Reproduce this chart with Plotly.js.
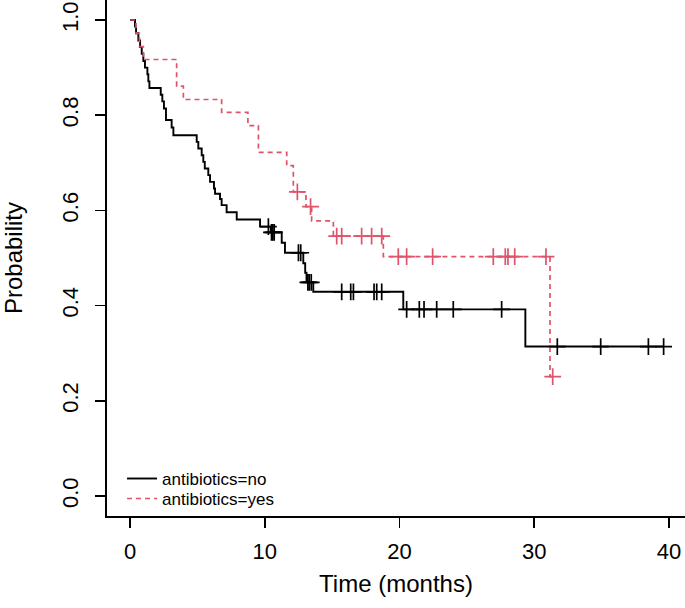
<!DOCTYPE html>
<html>
<head>
<meta charset="utf-8">
<script src="https://cdn.plot.ly/plotly-3.0.1.min.js"></script>
<style>html,body{margin:0;padding:0;background:#fff;}#chart{width:685px;height:608px;}</style>
</head>
<body>
<div id="chart"></div>
<script>
// Kaplan-Meier step data: time of each step (months) and survival after it
const noTimes = [0, 0.37, 0.45, 0.62, 0.75, 0.87, 0.99, 1.11, 1.29, 1.36, 1.44, 2.28, 2.40, 2.52, 2.67, 3.09, 3.22, 4.95, 5.07, 5.32, 5.44, 5.55, 5.81, 5.94, 6.23, 6.31, 6.68, 6.80, 7.17, 7.92, 9.65, 10.45, 11.26, 11.50, 12.86, 13.00, 13.10, 13.60, 20.28, 29.34, 39.6];
const noSurv  = [1.0, 0.986, 0.972, 0.957, 0.943, 0.929, 0.914, 0.900, 0.886, 0.871, 0.857, 0.843, 0.829, 0.814, 0.790, 0.774, 0.758, 0.744, 0.730, 0.716, 0.702, 0.688, 0.674, 0.660, 0.646, 0.635, 0.624, 0.611, 0.596, 0.581, 0.566, 0.554, 0.532, 0.511, 0.489, 0.469, 0.449, 0.429, 0.392, 0.314, 0.314];
const noCensor = [10.27, 10.5, 10.6, 10.7, 12.5, 12.67, 13.2, 13.3, 13.45, 15.71, 16.38, 16.58, 18.11, 18.31, 18.68, 20.53, 21.47, 21.82, 22.76, 23.99, 27.58, 31.71, 34.93, 38.47, 39.6];

const yesTimes = [0, 0.45, 0.70, 0.99, 3.46, 3.96, 6.80, 8.75, 9.53, 11.63, 12.12, 13.06, 13.48, 15.09, 18.80, 31.17, 31.37];
const yesSurv  = [1.0, 0.972, 0.944, 0.917, 0.861, 0.833, 0.806, 0.778, 0.722, 0.694, 0.639, 0.608, 0.578, 0.546, 0.503, 0.251, 0.251];
const yesCensor = [12.42, 13.4, 15.34, 15.71, 17.19, 17.93, 18.68, 19.91, 20.53, 22.46, 26.96, 27.85, 28.05, 28.55, 30.87, 31.37];

const groupNames = ["antibiotics=no", "antibiotics=yes"];
const xTicks = [0, 10, 20, 30, 40];
const yTicks = [0, 0.2, 0.4, 0.6, 0.8, 1.0];

function survAt(times, surv, t) {
  let s = surv[0];
  for (let i = 0; i < times.length; i++) { if (times[i] <= t) s = surv[i]; }
  return s;
}

const BLACK = "#000000";
const RED = "#DF536B";
const FONT = "Liberation Sans, Arial, Helvetica, sans-serif";

const traces = [
  {x: noTimes, y: noSurv, type: "scatter", mode: "lines", name: groupNames[0],
   line: {shape: "hv", color: BLACK, width: 1.9}, legend: "legend"},
  {x: yesTimes, y: yesSurv, type: "scatter", mode: "lines", name: groupNames[1],
   line: {shape: "hv", color: RED, width: 1.7, dash: "5px,4px"}, legend: "legend2"},
  {x: noCensor, y: noCensor.map(t => survAt(noTimes, noSurv, t)), type: "scatter", mode: "markers",
   showlegend: false, marker: {symbol: "cross-thin", size: 12, line: {color: BLACK, width: 1.7}}},
  {x: yesCensor, y: yesCensor.map(t => survAt(yesTimes, yesSurv, t)), type: "scatter", mode: "markers",
   showlegend: false, marker: {symbol: "cross-thin", size: 12, line: {color: RED, width: 1.7}}}
];

const layout = {
  width: 685, height: 608,
  margin: {l: 107, r: 0, t: 0, b: 92, pad: 0},
  paper_bgcolor: "#fff", plot_bgcolor: "#fff",
  font: {family: FONT, color: "#000", size: 22},
  showlegend: true,
  xaxis: {
    range: [-1.707, 41.187], tickvals: xTicks, ticktext: xTicks.map(String),
    showgrid: false, zeroline: false, showline: true, linecolor: "#000", linewidth: 1.7,
    ticks: "outside", ticklen: 10, tickwidth: 1.7, tickcolor: "#000",
    ticklabelstandoff: 5,
    tickfont: {size: 22, family: FONT},
    title: {text: "Time (months)", font: {size: 24, family: FONT}, standoff: 12},
    automargin: false
  },
  yaxis: {
    range: [-0.042, 1.042], tickvals: yTicks, ticktext: yTicks.map(v => v.toFixed(1)),
    tickangle: -90,
    showgrid: false, zeroline: false, showline: true, linecolor: "#000", linewidth: 1.7,
    ticks: "outside", ticklen: 10, tickwidth: 1.7, tickcolor: "#000",
    ticklabelstandoff: 9,
    tickfont: {size: 22, family: FONT},
    title: {text: "Probability", font: {size: 24, family: FONT}, standoff: 33},
    automargin: false
  },
  legend: {x: 0.026, y: 0.0718, xanchor: "left", yanchor: "middle", bgcolor: "rgba(0,0,0,0)",
           borderwidth: 0, font: {size: 17, family: FONT}, itemwidth: 30},
  legend2: {x: 0.026, y: 0.033, xanchor: "left", yanchor: "middle", bgcolor: "rgba(0,0,0,0)",
           borderwidth: 0, font: {size: 17, family: FONT}, itemwidth: 30}
};

Plotly.newPlot("chart", traces, layout, {displayModeBar: false, staticPlot: true});
</script>
</body>
</html>
